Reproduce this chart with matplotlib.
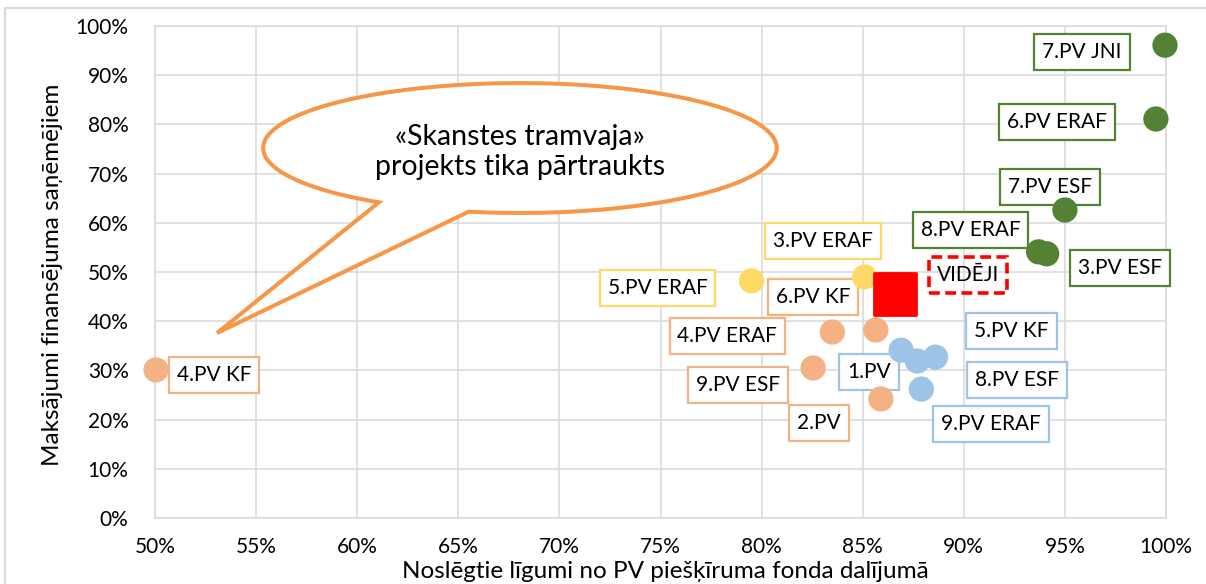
import numpy as np
import matplotlib
matplotlib.use("Agg")
import matplotlib.pyplot as plt
from matplotlib.patches import Polygon
from matplotlib.ticker import FuncFormatter
from matplotlib.lines import Line2D

plt.rcParams['font.family'] = ['Lato', 'DejaVu Sans']

# ---- data (percent) ----
green_x = [99.95, 99.5, 95.0, 93.7, 94.1]
green_y = [96.1, 81.1, 62.6, 54.1, 53.7]
green_labels = ['7.PV JNI', '6.PV ERAF', '7.PV ESF', '8.PV ERAF', '3.PV ESF']

yellow_x = [79.5, 85.1]
yellow_y = [48.2, 49.0]
yellow_labels = ['5.PV ERAF', '3.PV ERAF']

orange_x = [50.05, 85.65, 83.5, 82.55, 85.9]
orange_y = [30.1, 38.2, 37.8, 30.5, 24.2]
orange_labels = ['4.PV KF', '6.PV KF', '4.PV ERAF', '9.PV ESF', '2.PV']

blue_x = [86.9, 88.6, 87.7, 87.9]
blue_y = [34.1, 32.7, 31.9, 26.2]
blue_labels = ['1.PV', '5.PV KF', '8.PV ESF', '9.PV ERAF']

avg_x = [86.6]
avg_y = [45.5]
avg_labels = ['VIDĒJI']

x_ticks = [50, 55, 60, 65, 70, 75, 80, 85, 90, 95, 100]
y_ticks = [0, 10, 20, 30, 40, 50, 60, 70, 80, 90, 100]

x_title = 'Noslēgtie līgumi no PV piešķīruma fonda dalījumā'
y_title = 'Maksājumi finansējuma saņēmējiem'
callout_text = '«Skanstes tramvaja»\nprojekts tika pārtraukts'

# ---- label offsets (pixels) ----
offsets = {
    '7.PV JNI': (-83, -7), '6.PV ERAF': (-99, -3), '7.PV ESF': (-15, 23),
    '8.PV ERAF': (-68, 22), '3.PV ESF': (73, -14),
    '5.PV ERAF': (-94, -7), '3.PV ERAF': (-42, 36),
    '4.PV KF': (58, -5), '6.PV KF': (-63, 33), '4.PV ERAF': (-105, -4),
    '9.PV ESF': (-75, -17), '2.PV': (-62, -24),
    '1.PV': (-32, -22), '5.PV KF': (76, 26), '8.PV ESF': (100, -19),
    '9.PV ERAF': (70, -35), 'VIDĒJI': (73, 19),
}

GREEN = '#548235'
YELLOW = '#FFD966'
ORANGE = '#F4B183'
BLUE = '#9DC3E6'
RED = '#FF0000'
CALLOUT = '#F79646'
GRID = '#D9D9D9'

W, H = 1206, 584
fig = plt.figure(figsize=(W / 100, H / 100), dpi=100)
ax_l, ax_r, ax_t, ax_b = 155, 1166, 26, 518
ax = fig.add_axes([ax_l / W, 1 - ax_b / H, (ax_r - ax_l) / W, (ax_b - ax_t) / H])
ax.set_xlim(50, 100)
ax.set_ylim(0, 100)
ax.set_xticks(x_ticks)
ax.set_yticks(y_ticks)
ax.xaxis.set_major_formatter(FuncFormatter(lambda v, p: f'{v:.0f}%'))
ax.yaxis.set_major_formatter(FuncFormatter(lambda v, p: f'{v:.0f}%'))
ax.grid(True, color=GRID, linewidth=1.1, zorder=0)
ax.set_axisbelow(True)
for s in ax.spines.values():
    s.set_color(GRID)
    s.set_linewidth(1.1)
ax.tick_params(length=0, labelsize=15, colors='black')
ax.tick_params(axis='y', pad=19)
ax.tick_params(axis='x', pad=14)

# outer chart border (top and left visible)
fig.add_artist(Line2D([5 / W, 5 / W], [0, 1 - 8 / H], color=GRID, lw=1.5,
                      transform=fig.transFigure))
fig.add_artist(Line2D([5 / W, 1], [1 - 8 / H, 1 - 8 / H], color=GRID, lw=1.5,
                      transform=fig.transFigure))

fig.text(665 / W, 1 - 572 / H, x_title, ha='center', va='center', fontsize=17.5)
fig.text(53 / W, 1 - 275 / H, y_title, ha='center', va='center',
         rotation=90, fontsize=17.5)

# ---- callout ----
cx, cy = 68.05, 75.2
rx, ry = 12.7, 13.2
a0, a1 = np.deg2rad(258.5), np.deg2rad(596.7)
t = np.linspace(a0, a1, 300)
pts = list(zip(cx + rx * np.cos(t), cy + ry * np.sin(t)))
pts.append((53.07, 37.6))
callout = Polygon(pts, closed=True, facecolor='white', edgecolor=CALLOUT,
                  linewidth=2.9, joinstyle='miter', zorder=2)
ax.add_patch(callout)
ax.text(cx, cy - 0.8, callout_text, ha='center', va='center', fontsize=20.5,
        linespacing=1.2, zorder=3)

# ---- points and labels ----
series = [
    (green_x, green_y, green_labels, GREEN),
    (yellow_x, yellow_y, yellow_labels, YELLOW),
    (orange_x, orange_y, orange_labels, ORANGE),
    (blue_x, blue_y, blue_labels, BLUE),
]
for xs, ys, labs, col in series:
    ax.scatter(xs, ys, s=330, color=col, edgecolors='none', zorder=5,
               clip_on=False)
    for x, y, lab in zip(xs, ys, labs):
        ax.annotate(lab, (x, y), xytext=offsets[lab], textcoords='offset pixels',
                    ha='center', va='center', fontsize=15, zorder=4,
                    bbox=dict(boxstyle='square,pad=0.38', facecolor='white',
                              edgecolor=col, linewidth=1.6))

ax.scatter(avg_x, avg_y, s=900, marker='s', color=RED, edgecolors=RED,
           linewidths=2, zorder=5)
for x, y, lab in zip(avg_x, avg_y, avg_labels):
    ax.annotate(lab, (x, y), xytext=offsets[lab], textcoords='offset pixels',
                ha='center', va='center', fontsize=15, zorder=4,
                bbox=dict(boxstyle='square,pad=0.38', facecolor='none',
                          edgecolor=RED, linewidth=2.6, linestyle=(0, (3, 1.5))))

fig.savefig('out.png', dpi=100)
